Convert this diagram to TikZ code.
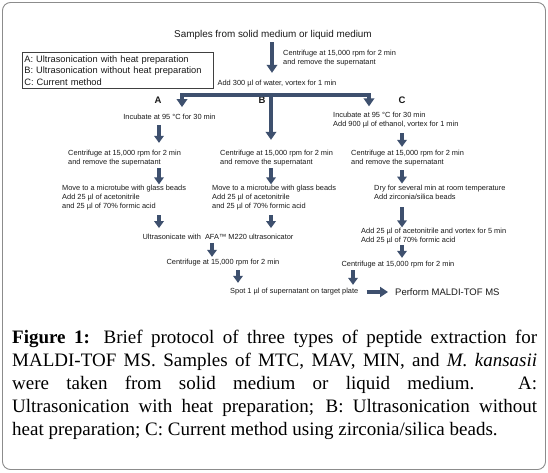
\documentclass[tikz,border=0pt]{standalone}
\usepackage{fontspec}
\setmainfont{Liberation Serif}
\setsansfont{Liberation Sans}
\usetikzlibrary{arrows.meta}
\definecolor{arrowblue}{RGB}{62,80,110}
\definecolor{framegray}{RGB}{140,140,140}
\definecolor{txt}{RGB}{25,25,25}
\begin{document}
\begin{tikzpicture}[x=1pt,y=-1pt,
  small/.style={font=\sffamily\fontsize{7.4}{9}\selectfont, inner sep=0pt, align=left, text=txt},
  large/.style={font=\sffamily\fontsize{9.9}{11.5}\selectfont, inner sep=0pt, text=txt},
  legendtext/.style={font=\sffamily\fontsize{9.3}{11.5}\selectfont, text=txt},
  letter/.style={font=\sffamily\bfseries\fontsize{9.5}{11}\selectfont, inner sep=0pt, text=txt},
  blk/.style={draw=arrowblue, line width=3.6pt, -{Triangle[width=9.5pt,length=7pt]}},
  bigblk/.style={draw=arrowblue, line width=4.2pt, -{Triangle[width=10.5pt,length=8pt]}},
]
\useasboundingbox (0,0) rectangle (548,472);
\draw[framegray, line width=0.9pt, rounded corners=8pt] (2.5,2.5) rectangle (545.5,469.5);

% column coordinates
\coordinate (xA) at (159,0);
\coordinate (xB) at (271,0);
\coordinate (xC) at (402,0);
\coordinate (bA) at (182,0);
\coordinate (bC) at (369,0);
\coordinate (xM) at (272,0);
\coordinate (xU) at (212,0);
\coordinate (xS) at (238,0);
\coordinate (xS2) at (353,0);
\coordinate (split) at (271,95);

% texts
\node[large] (title) at (273,35) {Samples from solid medium or liquid medium};
\node[legendtext, draw=black!75, line width=0.6pt, anchor=north west, text width=187pt,
      inner xsep=2pt, inner ysep=2pt, minimum height=36pt, align=left] (legend) at (22,52)
  {A: Ultrasonication with heat preparation\\B: Ultrasonication without heat preparation\\C: Current method};
\node[small, anchor=west] (cen0) at (283,58) {Centrifuge at 15,000 rpm for 2 min\\and remove the supernatant};
\node[small] (add300) at (277,84) {Add 300 µl of water, vortex for 1 min};

\node[letter] (labA) at (158,100) {A};
\node[letter] (labB) at (262,100) {B};
\node[letter] (labC) at (402,100) {C};

\node[small] (incA) at (169.5,117) {Incubate at 95 °C for 30 min};
\node[small, anchor=west] (cenA) at (68,158) {Centrifuge at 15,000 rpm for 2 min\\and remove the supernatant};
\node[small, anchor=west] (movA) at (62,198) {Move to a microtube with glass beads\\Add 25 µl of acetonitrile\\and 25 µl of 70\% formic acid};

\node[small, anchor=west] (cenB) at (220,158) {Centrifuge at 15,000 rpm for 2 min\\and remove the supernatant};
\node[small, anchor=west] (movB) at (212,198) {Move to a microtube with glass beads\\Add 25 µl of acetonitrile\\and 25 µl of 70\% formic acid};

\node[small] (ultra) at (218,237) {Ultrasonicate with\ \ AFA™ M220 ultrasonicator};
\node[small] (cenAB) at (223,263) {Centrifuge at 15,000 rpm for 2 min};
\node[small, anchor=west] (spot) at (230,292) {Spot 1 µl of supernatant on target plate};
\node[font=\sffamily\fontsize{9.5}{11}\selectfont, inner sep=0pt, text=txt, anchor=west] (perform) at (395,292) {Perform MALDI-TOF MS};

\node[small, anchor=west] (incC) at (333,120) {Incubate at 95 °C for 30 min\\Add 900 µl of ethanol, vortex for 1 min};
\node[small, anchor=west] (cenC) at (351,158) {Centrifuge at 15,000 rpm for 2 min\\and remove the supernatant};
\node[small, anchor=west] (dry) at (374,192.5) {Dry for several min at room temperature\\Add zirconia/silica beads};
\node[small, anchor=west] (add25C) at (361,236) {Add 25 µl of acetonitrile and vortex for 5 min\\Add 25 µl of 70\% formic acid};
\node[small] (cenC2) at (398,265) {Centrifuge at 15,000 rpm for 2 min};

% caption
\node[font=\fontsize{19}{23}\selectfont, text width=525pt, align=justify, inner sep=0pt,
      anchor=north west, text=black] (caption) at (12,330)
  {\tolerance=10000\textbf{Figure 1:} Brief protocol of three types of peptide extraction for\linebreak
   MALDI-TOF MS. Samples of MTC, MAV, MIN, and \textit{M. kansasii}\linebreak
   were taken from solid medium or liquid medium. A:\linebreak
   Ultrasonication with heat preparation; B: Ultrasonication without\linebreak
   heat preparation; C: Current method using zirconia/silica beads.};

% arrows
\draw[bigblk, shorten <=2.5pt, shorten >=7.5pt] (title.south -| xM) -- (add300.north -| xM);
\draw[bigblk, {Triangle[width=10.5pt,length=8pt]}-{Triangle[width=10.5pt,length=8pt]},
      shorten <=7pt, shorten >=5.5pt, line join=miter]
  (incA.north -| bA) |- (split) -| (incC.north -| bC);
\draw[bigblk, shorten >=10pt] (split) -- (cenB.north -| split);

\draw[blk, shorten <=5pt, shorten >=7pt] (incA.south -| xA) -- (cenA.north -| xA);
\draw[blk, shorten <=2pt, shorten >=1pt] (cenA.south -| xA) -- (movA.north -| xA);
\draw[blk, shorten <=4.5pt, shorten >=6pt] (movA.south -| xA) -- (ultra.north -| xA);
\draw[blk, shorten <=2pt, shorten >=1pt] (cenB.south -| xB) -- (movB.north -| xB);
\draw[blk, shorten <=4.5pt, shorten >=6pt] (movB.south -| xB) -- (ultra.north -| xB);
\draw[blk, shorten <=3pt, shorten >=2.5pt] (ultra.south -| xU) -- (cenAB.north -| xU);
\draw[blk, shorten <=3.5pt, shorten >=5.5pt] (cenAB.south -| xS) -- (spot.north -| xS);

\draw[blk, shorten <=5pt, shorten >=3pt] (incC.south -| xC) -- (cenC.north -| xC);
\draw[blk, shorten <=4pt, shorten >=1.5pt] (cenC.south -| xC) -- (dry.north -| xC);
\draw[blk, shorten <=7.5pt, shorten >=0.5pt] (dry.south -| xC) -- (add25C.north -| xC);
\draw[blk, shorten <=1pt, shorten >=3.5pt] (add25C.south -| xC) -- (cenC2.north -| xC);
\draw[blk, shorten <=1.5pt, shorten >=3.5pt] (cenC2.south -| xS2) -- (spot.north -| xS2);

\draw[draw=arrowblue, line width=4.5pt, -{Triangle[width=10pt,length=8pt]}, shorten <=8pt, shorten >=7pt]
  (spot.east) -- (perform.west);
\end{tikzpicture}
\end{document}
